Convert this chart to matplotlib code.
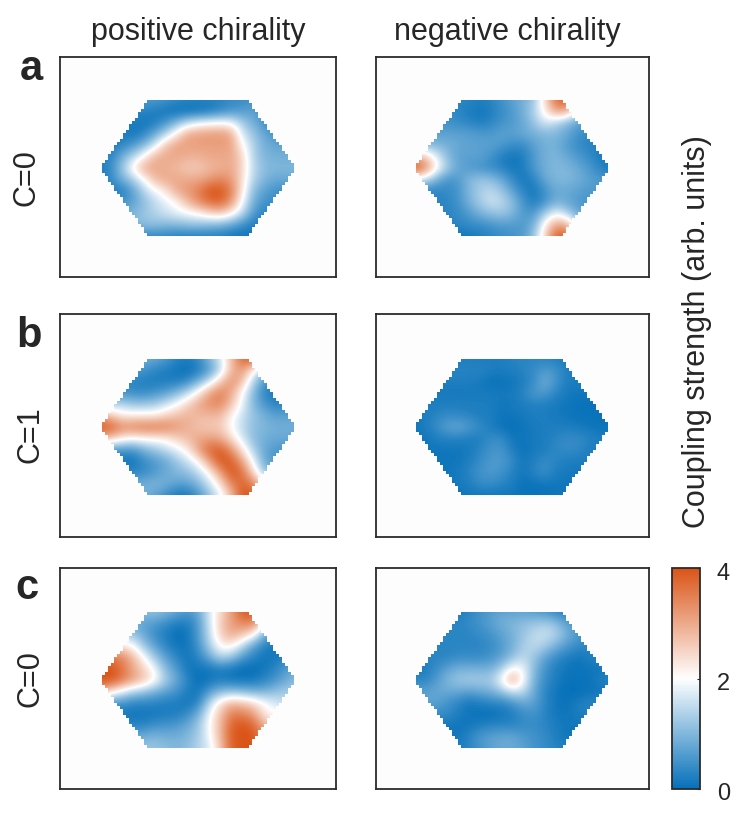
import numpy as np
import matplotlib
matplotlib.use('Agg')
import matplotlib.pyplot as plt
from matplotlib.colors import LinearSegmentedColormap
from matplotlib.patches import Polygon
from matplotlib.transforms import ScaledTranslation

plt.rcParams['font.family'] = ['Liberation Sans', 'DejaVu Sans']

# coupling strength, top row first
a_pos = [
    [.6, .6, .6, .6, .6, .6, .5, .4, .3, .3, .3, .3, .4, .4, .5, .5, .5, .5, .5],
    [.3, .3, .3, .3, .3, .2, .1, 0, 0, 0, .1, .3, .5, .6, .7, .5, .5, .5, .5],
    [.2, .2, .2, .2, .1, .2, .5, 1.0, 1.5, 1.8, 1.9, 2.0, 1.9, 1.3, .9, .5, .3, .3, .3],
    [.2, .2, .2, .1, .3, .8, 1.4, 2.2, 3.0, 3.1, 3.2, 3.2, 3.0, 1.7, 1.2, .8, .5, .4, .4],
    [.2, .2, .3, .6, 1.0, 1.7, 2.7, 3.1, 3.1, 3.1, 3.1, 3.1, 3.1, 2.1, 1.4, .9, .8, .7, .6],
    [.3, .3, .9, 1.4, 2.1, 2.9, 3.0, 3.0, 2.9, 2.9, 3.0, 3.0, 3.0, 2.5, 1.4, 1.0, .9, .9, .9],
    [.2, .4, 1.2, 2.2, 3.0, 3.0, 2.9, 2.8, 2.6, 2.6, 2.8, 2.9, 3.0, 2.5, 1.5, 1.1, 1.0, 1.0, 1.0],
    [.2, .4, .9, 1.3, 2.0, 2.8, 3.0, 3.0, 3.0, 3.0, 3.2, 3.4, 3.2, 2.4, 1.4, 1.0, .8, .8, .8],
    [.2, .2, .2, .7, 1.4, 1.9, 2.3, 3.0, 3.2, 3.5, 4.0, 4.0, 3.5, 2.3, 1.1, .7, .5, .4, .4],
    [.5, .5, .5, .7, 1.1, 1.5, 1.8, 2.1, 2.8, 3.3, 3.7, 3.8, 3.2, 2.0, .9, .5, .4, .4, .4],
    [.8, .8, .9, 1.0, 1.2, 1.4, 1.6, 1.8, 1.9, 2.1, 2.4, 2.6, 2.2, 1.5, .6, .3, .3, .3, .3],
    [1.0, 1.0, 1.0, 1.0, 1.1, 1.1, 1.0, 1.0, 1.1, 1.1, 1.0, .9, .7, .4, .2, .2, .2, .2, .2],
    [.3, .3, .3, .3, .3, .3, .3, .2, .2, .2, .2, .2, .1, .1, .1, .1, .1, .1, .1],
]
a_neg = [
    [.4, .4, .4, .4, .3, .3, .2, .3, .5, .7, .9, 1.2, 2.4, 3.7, 3.9, 3.5, 2.0, 1.5, 1.0],
    [.4, .4, .4, .4, .3, .2, .1, .2, .4, .6, .9, 1.4, 2.2, 3.1, 3.0, 1.6, 1.0, 1.0, .8],
    [.5, .5, .5, .5, .4, .3, .2, .3, .5, .6, .8, 1.2, 1.7, 1.4, 1.0, .7, .6, .6, .6],
    [.7, .7, .7, .7, .7, .7, .6, .6, .7, .7, .8, .9, 1.0, 1.0, .8, .5, .3, .3, .3],
    [1.0, 1.0, 1.0, .9, .8, .7, .7, .7, .6, .4, .4, .7, .9, .9, .6, .4, .3, .2, .2],
    [3.0, 2.6, 1.8, 1.1, .7, .7, .7, .5, .2, .1, .2, .6, .9, 1.0, .8, .6, .4, .2, .1],
    [4.0, 3.5, 2.2, 1.3, .8, .6, .5, .4, .3, .1, .2, .6, .9, 1.0, 1.0, .8, .6, .3, .1],
    [1.8, 1.5, .9, .5, .6, 1.0, 1.2, 1.1, .8, .4, .1, .3, .8, 1.0, 1.0, .9, .7, .6, .6],
    [.3, .3, .3, .4, .5, 1.0, 1.3, 1.5, 1.2, .7, .3, .1, .5, .8, .8, .7, .6, .6, .6],
    [.3, .3, .3, .3, .5, .9, 1.3, 1.6, 1.5, 1.1, .5, .2, .5, .9, .8, .6, .5, .5, .5],
    [.3, .3, .3, .3, .4, .6, .9, 1.1, 1.2, 1.0, .6, .6, 1.3, 1.9, 1.4, .8, .6, .6, .6],
    [.3, .3, .3, .3, .3, .4, .4, .5, .6, .6, .6, .9, 2.2, 3.1, 3.0, 1.5, 1.0, 1.0, 1.0],
    [.1, .1, .1, .1, .1, .1, .2, .3, .4, .5, .6, 1.2, 2.5, 3.9, 3.9, 2.5, 1.5, 1.0, 1.0],
]
b_pos = [
    [.9, .9, .9, .9, .9, .8, .6, .3, .2, .4, 1.0, 1.7, 2.7, 3.8, 4.0, 3.0, 2.0, 1.5, 1.5],
    [.6, .6, .6, .6, .5, .3, .2, .1, 0, .2, .6, 1.4, 2.8, 3.2, 2.2, 1.2, .8, .8, .8],
    [.3, .3, .3, .3, .2, .2, .2, .2, .4, .9, 1.6, 2.6, 3.3, 2.8, 1.4, .6, .3, .3, .3],
    [.5, .5, .5, .4, .4, .5, .7, 1.0, 1.5, 2.2, 3.1, 3.5, 3.0, 2.0, 1.1, .3, .1, .1, .1],
    [1.4, 1.4, 1.4, 1.2, 1.2, 1.3, 1.6, 2.0, 2.5, 3.0, 3.3, 3.4, 2.7, 1.9, 1.0, .6, .3, .3, .3],
    [3.0, 2.6, 2.2, 2.2, 2.2, 2.2, 2.5, 2.7, 2.9, 2.8, 2.8, 2.8, 2.1, 1.6, 1.2, .9, .7, .7, .7],
    [4.0, 3.9, 3.4, 3.5, 3.6, 3.6, 3.5, 3.2, 2.9, 2.7, 2.6, 2.6, 2.0, 1.5, 1.1, 1.0, .9, .9, .9],
    [3.0, 2.6, 2.2, 2.0, 2.1, 2.1, 2.2, 2.5, 2.8, 3.0, 3.1, 3.0, 2.4, 1.7, 1.1, .9, .8, .8, .8],
    [.5, .5, .5, .5, .9, 1.2, 1.5, 1.8, 2.2, 3.1, 3.8, 3.9, 3.3, 2.3, 1.4, .8, .6, .5, .5],
    [.1, .1, .1, .1, .4, .6, .8, 1.2, 1.6, 2.1, 3.1, 4.0, 3.9, 3.1, 1.9, .9, .5, .5, .5],
    [.3, .3, .3, .3, .4, .6, .8, 1.0, 1.1, 1.5, 2.1, 3.1, 4.0, 3.7, 2.5, 1.2, 1.0, 1.0, 1.0],
    [.9, .9, .9, .9, .9, 1.0, .9, .7, .7, 1.0, 1.6, 2.3, 3.4, 3.8, 3.5, 2.5, 2.0, 2.0, 2.0],
    [.9, .9, .9, .9, .9, .7, .4, .1, .1, .5, 1.1, 1.8, 2.7, 4.0, 4.0, 3.0, 2.5, 2.5, 2.5],
]
b_neg = [
    [.2, .2, .2, .2, .2, .2, .2, .2, .2, .3, .3, .3, .3, .2, .2, .2, .2, .2, .2],
    [.3, .3, .3, .3, .3, .3, .3, .2, .2, .2, .3, .4, .6, .5, .2, .2, .2, .2, .2],
    [.2, .2, .2, .2, .2, .2, .15, .05, .05, .1, .2, .4, .9, .5, .2, .2, .2, .2, .2],
    [.15, .15, .15, .15, .15, .15, .15, .15, .15, .15, .3, .6, .6, .3, .15, .1, .1, .1, .1],
    [.2, .2, .2, .2, .2, .2, .2, .2, .1, .15, .2, .25, .2, .15, .1, .05, .05, .05, .05],
    [.1, .2, .3, .4, .35, .3, .2, .2, .1, .1, .15, .2, .2, .15, .1, .05, .05, .05, .05],
    [.1, .2, .4, .7, .8, .6, .4, .2, .05, 0, .1, .15, .2, .2, .2, .15, .1, .05, .05],
    [.1, .1, .2, .25, .25, .2, .2, .4, .4, .1, .1, .15, .2, .3, .4, .4, .3, .2, .2],
    [.1, .1, .1, .1, .1, .15, .3, .5, .55, .2, .05, .15, .2, .35, .4, .35, .2, .2, .2],
    [.1, .1, .1, .1, .1, .2, .4, .6, .6, .4, .1, .25, .4, .3, .2, .2, .2, .2, .2],
    [.1, .1, .1, .1, .15, .3, .5, .6, .5, .25, .1, .3, .45, .2, .15, .1, .1, .1, .1],
    [.1, .1, .1, .1, .15, .2, .4, .4, .3, .2, .05, .05, .1, .1, .1, .1, .1, .1, .1],
    [.1, .1, .1, .1, .1, .1, .1, .1, .1, .1, .05, .05, .05, .1, .1, .1, .1, .1, .1],
]
c_pos = [
    [1.2, 1.2, 1.2, 1.2, 1.1, 1.2, 1.0, .8, .6, .8, 1.7, 2.4, 3.1, 3.9, 4.0, 3.0, 2.5, 2.0, 2.0],
    [.8, .8, .8, .8, .7, .6, .4, .2, .2, .6, 1.6, 2.6, 3.1, 3.4, 3.5, 2.3, 1.5, 1.5, 1.5],
    [1.3, 1.3, 1.3, 1.2, .8, .4, .2, 0, .1, .6, 1.5, 2.5, 3.0, 2.7, 2.2, .9, .4, .4, .4],
    [2.4, 2.4, 2.3, 2.0, 1.2, .7, .3, .1, .1, .5, 1.3, 2.1, 2.2, 1.5, .7, .3, .1, .1, .1],
    [3.7, 3.6, 3.4, 2.8, 2.0, 1.2, .7, .3, .1, .3, .8, 1.4, 1.2, .6, .3, .1, .1, .3, .3],
    [4.0, 4.0, 3.6, 3.0, 2.5, 1.9, 1.0, .6, .1, .1, .1, .2, .1, 0, 0, .1, .3, .6, .8],
    [4.0, 4.0, 3.6, 3.1, 2.7, 2.1, 1.3, .8, .3, 0, .1, .2, .1, .1, .1, .3, .5, .8, 1.1],
    [3.0, 2.3, 1.8, 1.4, 1.2, .9, .7, .5, .2, .1, .6, 1.0, 1.1, 1.0, .9, .9, 1.1, 1.3, 1.3],
    [.5, .5, .5, .3, .3, .3, .2, .2, .1, .3, 1.4, 2.3, 2.8, 2.7, 2.4, 2.0, 1.7, 1.5, 1.5],
    [.1, .1, .1, .1, .1, .1, .2, .2, .4, .9, 1.9, 2.7, 3.5, 3.5, 3.2, 2.3, 2.0, 2.0, 2.0],
    [.3, .3, .3, .3, .3, .5, .5, .6, .8, 1.2, 2.0, 2.8, 3.8, 4.0, 3.8, 3.0, 2.5, 2.5, 2.5],
    [.8, .8, .8, .8, .9, 1.0, .9, .9, 1.0, 1.3, 1.9, 2.8, 3.9, 4.0, 4.0, 3.5, 3.0, 3.0, 3.0],
    [1.2, 1.2, 1.2, 1.2, 1.2, 1.2, 1.1, 1.0, 1.1, 1.4, 1.7, 2.6, 3.8, 4.0, 4.0, 3.5, 3.0, 3.0, 3.0],
]
c_neg = [
    [.2, .2, .2, .2, .2, .3, .5, .6, .7, .7, .7, .6, .5, .3, .2, .2, .2, .2, .2],
    [.3, .3, .3, .3, .3, .4, .5, .7, .9, 1.0, 1.1, 1.2, 1.3, 1.1, .7, .5, .4, .4, .4],
    [.3, .3, .3, .3, .3, .3, .4, .5, .7, .9, 1.2, 1.5, 1.6, 1.4, .9, .6, .4, .4, .4],
    [.3, .3, .3, .3, .3, .3, .3, .4, .6, .9, 1.3, 1.5, 1.3, .9, .6, .4, .3, .3, .3],
    [.3, .3, .3, .3, .4, .4, .4, .5, .7, 1.1, 1.5, 1.2, .7, .4, .2, .1, .2, .3, .3],
    [.2, .2, .4, .7, .9, .9, .9, .9, 1.3, 2.1, 1.9, 1.0, .5, .2, .1, .05, .1, .1, .1],
    [.3, .3, .6, 1.0, 1.2, 1.3, 1.3, 1.3, 2.0, 3.1, 2.0, .9, .4, .2, .05, .05, .05, .2, .3],
    [.7, .7, .8, .8, .8, .7, .8, .9, 1.2, 1.6, 1.5, .8, .3, .1, 0, 0, .05, .1, .1],
    [.7, .7, .7, .5, .3, .1, .2, .3, .3, .5, .8, .7, .3, .1, .05, .2, .3, .3, .3],
    [.4, .4, .4, .4, .2, .1, .05, 0, .1, .2, .4, .5, .3, .1, .1, .2, .2, .2, .2],
    [.1, .1, .1, .1, .1, .1, .2, .3, .3, .3, .4, .4, .3, .2, .1, .1, .1, .1, .1],
    [.1, .1, .1, .1, .1, .3, .6, .7, .8, .8, .6, .5, .4, .2, .1, .1, .1, .1, .1],
    [.2, .2, .2, .2, .2, .3, .5, .7, .8, .8, .7, .5, .4, .3, .2, .2, .2, .2, .2],
]
col_titles = ['positive chirality', 'negative chirality']
row_letters = ['a', 'b', 'c']
row_names = ['C=0', 'C=1', 'C=0']
cbar_ticks = [0, 2, 4]
cbar_label = 'Coupling strength (arb. units)'

W, H = 747, 818
INK = '#262626'
BG = '#fdfdfd'
cmap = LinearSegmentedColormap.from_list('coupling', ['#0570b9', '#ffffff', '#da5417'])


def px_axes(fig, x0, y0, x1, y1):
    return fig.add_axes([x0 / W, 1 - y1 / H, (x1 - x0) / W, (y1 - y0) / H])


def stair_hexagon(n_rows=45, top=0.51):
    # blocky outline, the map sits on a grid of about 3 px
    edges = np.linspace(1, -1, n_rows + 1)
    mids = 0.5 * (edges[:-1] + edges[1:])
    half = np.round((1 - np.abs(mids) * (1 - top)) * 32.5) / 32.5
    right = [(h, e) for h, a, b in zip(half, edges[:-1], edges[1:]) for e in (a, b)]
    left = [(-x, y) for x, y in right[::-1]]
    return np.array(right + left)


def draw_panel(ax, values, cx, cy, x0, y0, x1, y1):
    ncol = len(values[0])
    nrow = len(values)
    dx = 1 / (ncol - 1)
    dy = 1 / (nrow - 1)
    im = ax.imshow(values, cmap=cmap, vmin=0, vmax=4, aspect='auto',
                   interpolation='bicubic',
                   extent=(-1 - dx, 1 + dx, -1 - dy, 1 + dy))
    im.set_clip_path(Polygon(stair_hexagon(), closed=True, transform=ax.transData))
    ax.set_xlim((x0 - cx) / 98, (x1 - cx) / 98)
    ax.set_ylim((cy - y1) / 68, (cy - y0) / 68)
    ax.set_facecolor(BG)
    ax.set_xticks([])
    ax.set_yticks([])
    for s in ax.spines.values():
        s.set_linewidth(1.3)
        s.set_color('#2b2b2b')
    return im


def main():
    fig = plt.figure(figsize=(W / 100, H / 100), dpi=100)
    panels = [[a_pos, a_neg], [b_pos, b_neg], [c_pos, c_neg]]
    tops = [(57, 277, 168), (314, 537, 427), (568, 789, 680)]
    lefts = [(60, 336, 198), (376, 649, 512)]
    letter_pos = [(31, 80), (29, 347), (27, 599)]
    name_pos = [(27, 178), (31, 435), (31, 679)]

    for i, (y0, y1, cy) in enumerate(tops):
        for j, (x0, x1, cx) in enumerate(lefts):
            ax = px_axes(fig, x0, y0, x1, y1)
            im = draw_panel(ax, panels[i][j], cx, cy, x0, y0, x1, y1)
        fig.text(letter_pos[i][0] / W, 1 - letter_pos[i][1] / H, row_letters[i],
                 fontsize=30, fontweight='bold', color=INK, ha='center', va='baseline')
        fig.text(name_pos[i][0] / W, 1 - name_pos[i][1] / H, row_names[i],
                 fontsize=22, rotation=90, color=INK, ha='center', va='center')

    fig.text(198 / W, 1 - 32 / H, col_titles[0], fontsize=22, color=INK,
             ha='center', va='center')
    fig.text(507 / W, 1 - 32 / H, col_titles[1], fontsize=22, color=INK,
             ha='center', va='center')

    cax = px_axes(fig, 672, 568, 700, 789)
    cb = fig.colorbar(im, cax=cax, ticks=cbar_ticks)
    cb.outline.set_linewidth(1.3)
    cb.outline.set_edgecolor('#2b2b2b')
    cax.tick_params(length=2, width=0.8, direction='in', color=INK,
                    labelsize=17, labelcolor=INK, pad=12)
    shift = ScaledTranslation(0, -3 / 100, fig.dpi_scale_trans)
    for lab in cax.get_yticklabels():
        lab.set_transform(lab.get_transform() + shift)
    fig.text(697 / W, 1 - 332 / H, cbar_label, fontsize=22, rotation=90,
             color=INK, ha='center', va='center')

    fig.savefig('out.png', dpi=100)


if __name__ == "__main__":
    main()
